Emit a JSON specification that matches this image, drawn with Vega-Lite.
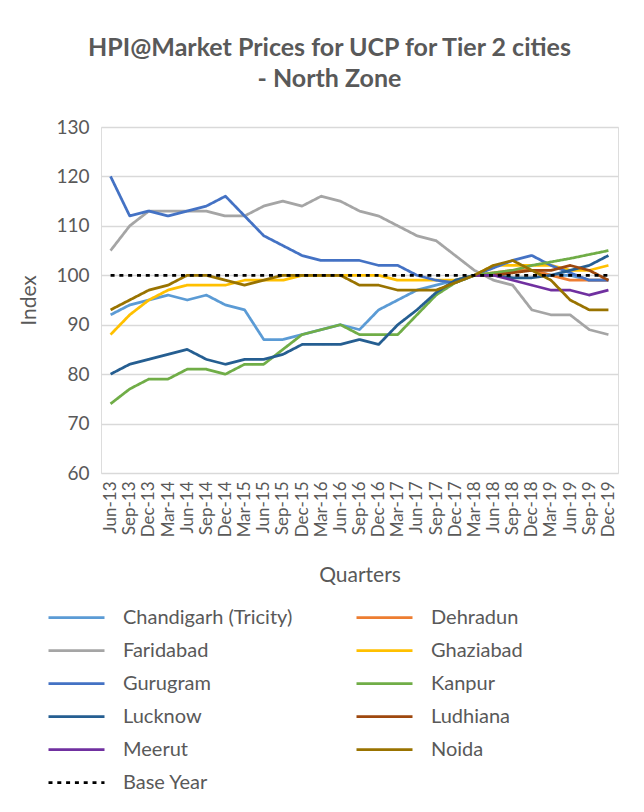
{
  "$schema": "https://vega.github.io/schema/vega-lite/v6.json",
  "width": 517,
  "height": 346,
  "autosize": {"type": "none"},
  "padding": {"left": 101, "top": 127, "right": 26, "bottom": 339},
  "background": "white",
  "title": {
    "text": ["HPI@Market Prices for UCP for Tier 2 cities", "- North Zone"],
    "anchor": "middle",
    "dx": -30,
    "fontSize": 25,
    "font": "Lato",
    "fontWeight": "bold",
    "color": "#595959",
    "lineHeight": 31,
    "offset": 26
  },
  "datasets": {
    "hpi": [
      {"q":"Jun-13","s":"Chandigarh (Tricity)","v":92},{"q":"Sep-13","s":"Chandigarh (Tricity)","v":94},{"q":"Dec-13","s":"Chandigarh (Tricity)","v":95},{"q":"Mar-14","s":"Chandigarh (Tricity)","v":96},{"q":"Jun-14","s":"Chandigarh (Tricity)","v":95},{"q":"Sep-14","s":"Chandigarh (Tricity)","v":96},{"q":"Dec-14","s":"Chandigarh (Tricity)","v":94},{"q":"Mar-15","s":"Chandigarh (Tricity)","v":93},{"q":"Jun-15","s":"Chandigarh (Tricity)","v":87},{"q":"Sep-15","s":"Chandigarh (Tricity)","v":87},{"q":"Dec-15","s":"Chandigarh (Tricity)","v":88},{"q":"Mar-16","s":"Chandigarh (Tricity)","v":89},{"q":"Jun-16","s":"Chandigarh (Tricity)","v":90},{"q":"Sep-16","s":"Chandigarh (Tricity)","v":89},{"q":"Dec-16","s":"Chandigarh (Tricity)","v":93},{"q":"Mar-17","s":"Chandigarh (Tricity)","v":95},{"q":"Jun-17","s":"Chandigarh (Tricity)","v":97},{"q":"Sep-17","s":"Chandigarh (Tricity)","v":98},{"q":"Dec-17","s":"Chandigarh (Tricity)","v":99},{"q":"Mar-18","s":"Chandigarh (Tricity)","v":100},{"q":"Jun-18","s":"Chandigarh (Tricity)","v":100},{"q":"Sep-18","s":"Chandigarh (Tricity)","v":101},{"q":"Dec-18","s":"Chandigarh (Tricity)","v":101},{"q":"Mar-19","s":"Chandigarh (Tricity)","v":100},{"q":"Jun-19","s":"Chandigarh (Tricity)","v":100},{"q":"Sep-19","s":"Chandigarh (Tricity)","v":99},{"q":"Dec-19","s":"Chandigarh (Tricity)","v":99},

      {"q":"Mar-18","s":"Dehradun","v":100},{"q":"Jun-18","s":"Dehradun","v":100.5},{"q":"Sep-18","s":"Dehradun","v":101},{"q":"Dec-18","s":"Dehradun","v":101},{"q":"Mar-19","s":"Dehradun","v":100},{"q":"Jun-19","s":"Dehradun","v":99},{"q":"Sep-19","s":"Dehradun","v":99},{"q":"Dec-19","s":"Dehradun","v":99},

      {"q":"Jun-13","s":"Faridabad","v":105},{"q":"Sep-13","s":"Faridabad","v":110},{"q":"Dec-13","s":"Faridabad","v":113},{"q":"Mar-14","s":"Faridabad","v":113},{"q":"Jun-14","s":"Faridabad","v":113},{"q":"Sep-14","s":"Faridabad","v":113},{"q":"Dec-14","s":"Faridabad","v":112},{"q":"Mar-15","s":"Faridabad","v":112},{"q":"Jun-15","s":"Faridabad","v":114},{"q":"Sep-15","s":"Faridabad","v":115},{"q":"Dec-15","s":"Faridabad","v":114},{"q":"Mar-16","s":"Faridabad","v":116},{"q":"Jun-16","s":"Faridabad","v":115},{"q":"Sep-16","s":"Faridabad","v":113},{"q":"Dec-16","s":"Faridabad","v":112},{"q":"Mar-17","s":"Faridabad","v":110},{"q":"Jun-17","s":"Faridabad","v":108},{"q":"Sep-17","s":"Faridabad","v":107},{"q":"Dec-17","s":"Faridabad","v":104},{"q":"Mar-18","s":"Faridabad","v":101},{"q":"Jun-18","s":"Faridabad","v":99},{"q":"Sep-18","s":"Faridabad","v":98},{"q":"Dec-18","s":"Faridabad","v":93},{"q":"Mar-19","s":"Faridabad","v":92},{"q":"Jun-19","s":"Faridabad","v":92},{"q":"Sep-19","s":"Faridabad","v":89},{"q":"Dec-19","s":"Faridabad","v":88},

      {"q":"Jun-13","s":"Ghaziabad","v":88},{"q":"Sep-13","s":"Ghaziabad","v":92},{"q":"Dec-13","s":"Ghaziabad","v":95},{"q":"Mar-14","s":"Ghaziabad","v":97},{"q":"Jun-14","s":"Ghaziabad","v":98},{"q":"Sep-14","s":"Ghaziabad","v":98},{"q":"Dec-14","s":"Ghaziabad","v":98},{"q":"Mar-15","s":"Ghaziabad","v":99},{"q":"Jun-15","s":"Ghaziabad","v":99},{"q":"Sep-15","s":"Ghaziabad","v":99},{"q":"Dec-15","s":"Ghaziabad","v":100},{"q":"Mar-16","s":"Ghaziabad","v":100},{"q":"Jun-16","s":"Ghaziabad","v":100},{"q":"Sep-16","s":"Ghaziabad","v":100},{"q":"Dec-16","s":"Ghaziabad","v":100},{"q":"Mar-17","s":"Ghaziabad","v":99},{"q":"Jun-17","s":"Ghaziabad","v":99},{"q":"Sep-17","s":"Ghaziabad","v":99},{"q":"Dec-17","s":"Ghaziabad","v":99},{"q":"Mar-18","s":"Ghaziabad","v":100},{"q":"Jun-18","s":"Ghaziabad","v":102},{"q":"Sep-18","s":"Ghaziabad","v":102},{"q":"Dec-18","s":"Ghaziabad","v":102},{"q":"Mar-19","s":"Ghaziabad","v":102},{"q":"Jun-19","s":"Ghaziabad","v":101},{"q":"Sep-19","s":"Ghaziabad","v":101},{"q":"Dec-19","s":"Ghaziabad","v":102},

      {"q":"Jun-13","s":"Gurugram","v":120},{"q":"Sep-13","s":"Gurugram","v":112},{"q":"Dec-13","s":"Gurugram","v":113},{"q":"Mar-14","s":"Gurugram","v":112},{"q":"Jun-14","s":"Gurugram","v":113},{"q":"Sep-14","s":"Gurugram","v":114},{"q":"Dec-14","s":"Gurugram","v":116},{"q":"Mar-15","s":"Gurugram","v":112},{"q":"Jun-15","s":"Gurugram","v":108},{"q":"Sep-15","s":"Gurugram","v":106},{"q":"Dec-15","s":"Gurugram","v":104},{"q":"Mar-16","s":"Gurugram","v":103},{"q":"Jun-16","s":"Gurugram","v":103},{"q":"Sep-16","s":"Gurugram","v":103},{"q":"Dec-16","s":"Gurugram","v":102},{"q":"Mar-17","s":"Gurugram","v":102},{"q":"Jun-17","s":"Gurugram","v":100},{"q":"Sep-17","s":"Gurugram","v":99},{"q":"Dec-17","s":"Gurugram","v":98.5},{"q":"Mar-18","s":"Gurugram","v":100},{"q":"Jun-18","s":"Gurugram","v":101.5},{"q":"Sep-18","s":"Gurugram","v":103},{"q":"Dec-18","s":"Gurugram","v":104},{"q":"Mar-19","s":"Gurugram","v":102},{"q":"Jun-19","s":"Gurugram","v":100.5},{"q":"Sep-19","s":"Gurugram","v":99},{"q":"Dec-19","s":"Gurugram","v":99},

      {"q":"Jun-13","s":"Kanpur","v":74},{"q":"Sep-13","s":"Kanpur","v":77},{"q":"Dec-13","s":"Kanpur","v":79},{"q":"Mar-14","s":"Kanpur","v":79},{"q":"Jun-14","s":"Kanpur","v":81},{"q":"Sep-14","s":"Kanpur","v":81},{"q":"Dec-14","s":"Kanpur","v":80},{"q":"Mar-15","s":"Kanpur","v":82},{"q":"Jun-15","s":"Kanpur","v":82},{"q":"Sep-15","s":"Kanpur","v":85},{"q":"Dec-15","s":"Kanpur","v":88},{"q":"Mar-16","s":"Kanpur","v":89},{"q":"Jun-16","s":"Kanpur","v":90},{"q":"Sep-16","s":"Kanpur","v":88},{"q":"Dec-16","s":"Kanpur","v":88},{"q":"Mar-17","s":"Kanpur","v":88},{"q":"Jun-17","s":"Kanpur","v":92},{"q":"Sep-17","s":"Kanpur","v":96},{"q":"Dec-17","s":"Kanpur","v":98.5},{"q":"Mar-18","s":"Kanpur","v":100},{"q":"Jun-18","s":"Kanpur","v":100.5},{"q":"Sep-18","s":"Kanpur","v":101},{"q":"Dec-18","s":"Kanpur","v":102},{"q":"Mar-19","s":"Kanpur","v":102.7},{"q":"Jun-19","s":"Kanpur","v":103.4},{"q":"Sep-19","s":"Kanpur","v":104.2},{"q":"Dec-19","s":"Kanpur","v":105},

      {"q":"Jun-13","s":"Lucknow","v":80},{"q":"Sep-13","s":"Lucknow","v":82},{"q":"Dec-13","s":"Lucknow","v":83},{"q":"Mar-14","s":"Lucknow","v":84},{"q":"Jun-14","s":"Lucknow","v":85},{"q":"Sep-14","s":"Lucknow","v":83},{"q":"Dec-14","s":"Lucknow","v":82},{"q":"Mar-15","s":"Lucknow","v":83},{"q":"Jun-15","s":"Lucknow","v":83},{"q":"Sep-15","s":"Lucknow","v":84},{"q":"Dec-15","s":"Lucknow","v":86},{"q":"Mar-16","s":"Lucknow","v":86},{"q":"Jun-16","s":"Lucknow","v":86},{"q":"Sep-16","s":"Lucknow","v":87},{"q":"Dec-16","s":"Lucknow","v":86},{"q":"Mar-17","s":"Lucknow","v":90},{"q":"Jun-17","s":"Lucknow","v":93},{"q":"Sep-17","s":"Lucknow","v":96.5},{"q":"Dec-17","s":"Lucknow","v":99},{"q":"Mar-18","s":"Lucknow","v":100},{"q":"Jun-18","s":"Lucknow","v":100},{"q":"Sep-18","s":"Lucknow","v":99.5},{"q":"Dec-18","s":"Lucknow","v":99.5},{"q":"Mar-19","s":"Lucknow","v":100},{"q":"Jun-19","s":"Lucknow","v":101},{"q":"Sep-19","s":"Lucknow","v":102},{"q":"Dec-19","s":"Lucknow","v":104},

      {"q":"Mar-18","s":"Ludhiana","v":100},{"q":"Jun-18","s":"Ludhiana","v":100},{"q":"Sep-18","s":"Ludhiana","v":100.5},{"q":"Dec-18","s":"Ludhiana","v":101},{"q":"Mar-19","s":"Ludhiana","v":101},{"q":"Jun-19","s":"Ludhiana","v":102},{"q":"Sep-19","s":"Ludhiana","v":101},{"q":"Dec-19","s":"Ludhiana","v":99},

      {"q":"Mar-18","s":"Meerut","v":100},{"q":"Jun-18","s":"Meerut","v":100},{"q":"Sep-18","s":"Meerut","v":99},{"q":"Dec-18","s":"Meerut","v":98},{"q":"Mar-19","s":"Meerut","v":97},{"q":"Jun-19","s":"Meerut","v":97},{"q":"Sep-19","s":"Meerut","v":96},{"q":"Dec-19","s":"Meerut","v":97},

      {"q":"Jun-13","s":"Noida","v":93},{"q":"Sep-13","s":"Noida","v":95},{"q":"Dec-13","s":"Noida","v":97},{"q":"Mar-14","s":"Noida","v":98},{"q":"Jun-14","s":"Noida","v":100},{"q":"Sep-14","s":"Noida","v":100},{"q":"Dec-14","s":"Noida","v":99},{"q":"Mar-15","s":"Noida","v":98},{"q":"Jun-15","s":"Noida","v":99},{"q":"Sep-15","s":"Noida","v":100},{"q":"Dec-15","s":"Noida","v":100},{"q":"Mar-16","s":"Noida","v":100},{"q":"Jun-16","s":"Noida","v":100},{"q":"Sep-16","s":"Noida","v":98},{"q":"Dec-16","s":"Noida","v":98},{"q":"Mar-17","s":"Noida","v":97},{"q":"Jun-17","s":"Noida","v":97},{"q":"Sep-17","s":"Noida","v":97},{"q":"Dec-17","s":"Noida","v":98.5},{"q":"Mar-18","s":"Noida","v":100},{"q":"Jun-18","s":"Noida","v":102},{"q":"Sep-18","s":"Noida","v":103},{"q":"Dec-18","s":"Noida","v":101},{"q":"Mar-19","s":"Noida","v":99},{"q":"Jun-19","s":"Noida","v":95},{"q":"Sep-19","s":"Noida","v":93},{"q":"Dec-19","s":"Noida","v":93},

      {"q":"Jun-13","s":"Base Year","v":100},{"q":"Sep-13","s":"Base Year","v":100},{"q":"Dec-13","s":"Base Year","v":100},{"q":"Mar-14","s":"Base Year","v":100},{"q":"Jun-14","s":"Base Year","v":100},{"q":"Sep-14","s":"Base Year","v":100},{"q":"Dec-14","s":"Base Year","v":100},{"q":"Mar-15","s":"Base Year","v":100},{"q":"Jun-15","s":"Base Year","v":100},{"q":"Sep-15","s":"Base Year","v":100},{"q":"Dec-15","s":"Base Year","v":100},{"q":"Mar-16","s":"Base Year","v":100},{"q":"Jun-16","s":"Base Year","v":100},{"q":"Sep-16","s":"Base Year","v":100},{"q":"Dec-16","s":"Base Year","v":100},{"q":"Mar-17","s":"Base Year","v":100},{"q":"Jun-17","s":"Base Year","v":100},{"q":"Sep-17","s":"Base Year","v":100},{"q":"Dec-17","s":"Base Year","v":100},{"q":"Mar-18","s":"Base Year","v":100},{"q":"Jun-18","s":"Base Year","v":100},{"q":"Sep-18","s":"Base Year","v":100},{"q":"Dec-18","s":"Base Year","v":100},{"q":"Mar-19","s":"Base Year","v":100},{"q":"Jun-19","s":"Base Year","v":100},{"q":"Sep-19","s":"Base Year","v":100},{"q":"Dec-19","s":"Base Year","v":100}
    ]
  },
  "data": {"name": "hpi"},
  "mark": {"type": "line", "strokeJoin": "round"},
  "encoding": {
    "x": {
      "field": "q",
      "type": "ordinal",
      "scale": {
        "type": "point",
        "padding": 0.5,
        "domain": ["Jun-13","Sep-13","Dec-13","Mar-14","Jun-14","Sep-14","Dec-14","Mar-15","Jun-15","Sep-15","Dec-15","Mar-16","Jun-16","Sep-16","Dec-16","Mar-17","Jun-17","Sep-17","Dec-17","Mar-18","Jun-18","Sep-18","Dec-18","Mar-19","Jun-19","Sep-19","Dec-19"]
      },
      "axis": {
        "title": "Quarters",
        "titleFont": "Lato",
        "titleFontSize": 21,
        "titleFontWeight": "normal",
        "titleColor": "#595959",
        "titlePadding": 28,
        "labelAngle": -90,
        "labelFont": "Lato",
        "labelFontSize": 17,
        "labelColor": "#595959",
        "labelPadding": 8,
        "ticks": false,
        "domain": false,
        "grid": false
      }
    },
    "y": {
      "field": "v",
      "type": "quantitative",
      "scale": {"domain": [60, 130], "nice": false, "zero": false},
      "axis": {
        "title": "Index",
        "titleFont": "Lato",
        "titleFontSize": 21,
        "titleFontWeight": "normal",
        "titleColor": "#595959",
        "titlePadding": 16,
        "values": [60, 70, 80, 90, 100, 110, 120, 130],
        "labelFont": "Lato",
        "labelFontSize": 19,
        "labelColor": "#595959",
        "labelPadding": 12,
        "ticks": false,
        "domain": false,
        "grid": true,
        "gridColor": "#D9D9D9",
        "gridWidth": 1.5
      }
    },
    "color": {
      "field": "s",
      "type": "nominal",
      "scale": {
        "domain": ["Chandigarh (Tricity)","Dehradun","Faridabad","Ghaziabad","Gurugram","Kanpur","Lucknow","Ludhiana","Meerut","Noida","Base Year"],
        "range": ["#5B9BD5","#ED7D31","#A5A5A5","#FFC000","#4472C4","#70AD47","#255E91","#9E480E","#7030A0","#997300","#000000"]
      },
      "legend": {
        "title": null,
        "orient": "none",
        "direction": "horizontal",
        "legendX": -54,
        "legendY": 474,
        "columns": 2,
        "columnPadding": 62,
        "rowPadding": 0,
        "clipHeight": 33,
        "symbolType": "stroke",
        "symbolSize": 3136,
        "labelOffset": 17,
        "labelLimit": 400,
        "labelFont": "Lato",
        "labelFontSize": 20,
        "labelColor": "#595959",
        "padding": 0
      }
    },
    "strokeDash": {
      "field": "s",
      "type": "nominal",
      "scale": {
        "domain": ["Chandigarh (Tricity)","Dehradun","Faridabad","Ghaziabad","Gurugram","Kanpur","Lucknow","Ludhiana","Meerut","Noida","Base Year"],
        "range": [[1,0],[1,0],[1,0],[1,0],[1,0],[1,0],[1,0],[1,0],[1,0],[1,0],[4,4.8]]
      },
      "legend": {
        "title": null,
        "orient": "none",
        "direction": "horizontal",
        "legendX": -54,
        "legendY": 474,
        "columns": 2,
        "columnPadding": 62,
        "rowPadding": 0,
        "clipHeight": 33,
        "symbolType": "stroke",
        "symbolSize": 3136,
        "labelOffset": 17,
        "labelLimit": 400,
        "labelFont": "Lato",
        "labelFontSize": 20,
        "labelColor": "#595959",
        "padding": 0
      }
    },
    "strokeWidth": {
      "field": "s",
      "type": "nominal",
      "scale": {
        "domain": ["Chandigarh (Tricity)","Dehradun","Faridabad","Ghaziabad","Gurugram","Kanpur","Lucknow","Ludhiana","Meerut","Noida","Base Year"],
        "range": [2.75,2.75,2.75,2.75,2.75,2.75,2.75,2.75,2.75,2.75,4]
      },
      "legend": {
        "title": null,
        "orient": "none",
        "direction": "horizontal",
        "legendX": -54,
        "legendY": 474,
        "columns": 2,
        "columnPadding": 62,
        "rowPadding": 0,
        "clipHeight": 33,
        "symbolType": "stroke",
        "symbolSize": 3136,
        "labelOffset": 17,
        "labelLimit": 400,
        "labelFont": "Lato",
        "labelFontSize": 20,
        "labelColor": "#595959",
        "padding": 0
      }
    }
  }
}
